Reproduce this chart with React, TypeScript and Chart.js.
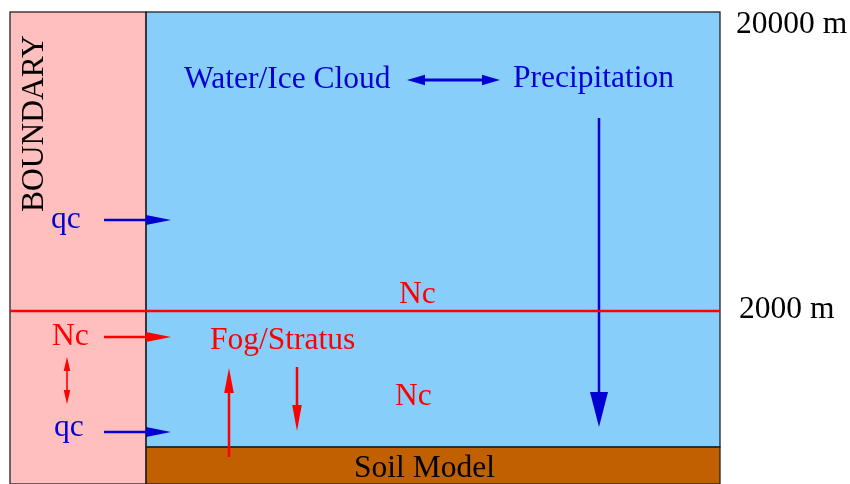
import React, { useEffect, useRef } from 'react';
import { Chart, registerables } from 'chart.js';

Chart.register(...registerables);

// Diagram coordinate space (x: 0..850 left→right, y: 0..484 top→bottom)
const boxNames = ['boundary', 'atmosphere', 'soil'];
const boxLeft = [10, 146, 146];
const boxRight = [146, 720, 720];
const boxTop = [12, 12, 447];
const boxBottom = [484, 447, 484];

const levelNames = ['fog top (2000 m)'];
const levelY = [311];
const levelFromX = [10];
const levelToX = [720];

const arrowNames = ['qc in (top)', 'Nc in', 'qc in (bottom)', 'soil up', 'fog down', 'precip fall', 'cloud<->precip', 'Nc<->qc'];
const arrowFromX = [104, 104, 104, 229, 297, 599, 407, 67];
const arrowFromY = [220, 337, 432, 457, 367, 118, 80, 357];
const arrowToX = [171, 171, 171, 229, 297, 599, 500, 67];
const arrowToY = [220, 337, 432, 368, 431, 427, 80, 404];
const arrowDouble = [false, false, false, false, false, false, true, true];

const labelTexts = ['20000 m', '2000 m', 'BOUNDARY', 'Water/Ice Cloud', 'Precipitation', 'qc', 'Nc', 'Fog/Stratus', 'Nc', 'Nc', 'qc', 'Soil Model'];
const labelX = [736, 739, 43, 184, 513, 51, 52, 210, 399, 395, 54, 354];
const labelY = [33, 318, 212, 88, 87, 228, 345, 349, 303, 405, 436, 477];

// styles (kept apart from the values)
const BLUE = '#0000d2';
const RED = '#ff0000';
const BLACK = '#000000';
const boxFill = ['#ffbfbf', '#87cefa', '#c06000'];
const arrowColor = [BLUE, RED, BLUE, RED, RED, BLUE, BLUE, RED];
const arrowWidth = [2.5, 2.5, 2.5, 2.5, 2.5, 2.5, 2.8, 1.6];
const headLen = [25, 25, 25, 25, 26, 35, 18, 14];
const headHalf = [5, 5, 5, 4.8, 4.8, 9, 5.3, 3.3];
const labelColor = [BLACK, BLACK, BLACK, BLUE, BLUE, BLUE, RED, RED, RED, RED, BLUE, BLACK];
const labelRotated = [false, false, true, false, false, false, false, false, false, false, false, false];
const FONT = '31.5px "Liberation Serif", "Times New Roman", serif';

function shaftEnd(i: number, end: 'from' | 'to') {
  const x0 = arrowFromX[i], y0 = arrowFromY[i], x1 = arrowToX[i], y1 = arrowToY[i];
  const len = Math.hypot(x1 - x0, y1 - y0);
  const ux = (x1 - x0) / len, uy = (y1 - y0) / len;
  if (end === 'to') return { x: x1 - ux * headLen[i] * 0.9, y: y1 - uy * headLen[i] * 0.9 };
  if (arrowDouble[i]) return { x: x0 + ux * headLen[i] * 0.9, y: y0 + uy * headLen[i] * 0.9 };
  return { x: x0, y: y0 };
}

const diagramPlugin = {
  id: 'diagram',
  beforeDatasetsDraw(chart: any) {
    const ctx = chart.ctx;
    const xs = chart.scales.x, ys = chart.scales.y;
    ctx.save();
    boxNames.forEach((_, i) => {
      const l = xs.getPixelForValue(boxLeft[i]);
      const r = xs.getPixelForValue(boxRight[i]);
      const t = ys.getPixelForValue(boxTop[i]);
      const b = ys.getPixelForValue(boxBottom[i]);
      ctx.fillStyle = boxFill[i];
      ctx.fillRect(l, t, r - l, b - t);
    });
    ctx.strokeStyle = '#222222';
    ctx.lineWidth = 1.3;
    boxNames.forEach((_, i) => {
      const l = xs.getPixelForValue(boxLeft[i]);
      const r = xs.getPixelForValue(boxRight[i]);
      const t = ys.getPixelForValue(boxTop[i]);
      const b = ys.getPixelForValue(boxBottom[i]);
      ctx.strokeRect(l, t, r - l, b - t);
    });
    ctx.restore();
  },
  afterDatasetsDraw(chart: any) {
    const ctx = chart.ctx;
    const xs = chart.scales.x, ys = chart.scales.y;
    ctx.save();
    const head = (i: number, tx: number, ty: number, fx: number, fy: number) => {
      const px = xs.getPixelForValue(tx), py = ys.getPixelForValue(ty);
      const qx = xs.getPixelForValue(fx), qy = ys.getPixelForValue(fy);
      const len = Math.hypot(px - qx, py - qy);
      const ux = (px - qx) / len, uy = (py - qy) / len;
      const bx = px - ux * headLen[i], by = py - uy * headLen[i];
      ctx.beginPath();
      ctx.moveTo(px, py);
      ctx.lineTo(bx - uy * headHalf[i], by + ux * headHalf[i]);
      ctx.lineTo(bx + uy * headHalf[i], by - ux * headHalf[i]);
      ctx.closePath();
      ctx.fillStyle = arrowColor[i];
      ctx.fill();
    };
    arrowNames.forEach((_, i) => {
      head(i, arrowToX[i], arrowToY[i], arrowFromX[i], arrowFromY[i]);
      if (arrowDouble[i]) head(i, arrowFromX[i], arrowFromY[i], arrowToX[i], arrowToY[i]);
    });
    ctx.font = FONT;
    ctx.textBaseline = 'alphabetic';
    ctx.textAlign = 'left';
    labelTexts.forEach((t, i) => {
      const px = xs.getPixelForValue(labelX[i]);
      const py = ys.getPixelForValue(labelY[i]);
      ctx.fillStyle = labelColor[i];
      if (labelRotated[i]) {
        ctx.save();
        ctx.translate(px, py);
        ctx.rotate(-Math.PI / 2);
        ctx.fillText(t, 0, 0);
        ctx.restore();
      } else {
        ctx.fillText(t, px, py);
      }
    });
    ctx.restore();
  },
};

export default function App() {
  const ref = useRef<HTMLCanvasElement>(null);
  useEffect(() => {
    document.body.style.margin = '0';
    if (!ref.current) return;
    const datasets: any[] = [];
    levelNames.forEach((n, i) => {
      datasets.push({
        label: n,
        data: [{ x: levelFromX[i], y: levelY[i] }, { x: levelToX[i], y: levelY[i] }],
        showLine: true,
        borderColor: RED,
        borderWidth: 2.5,
        pointRadius: 0,
        borderCapStyle: 'butt',
      });
    });
    arrowNames.forEach((n, i) => {
      const a = shaftEnd(i, 'from');
      const b = shaftEnd(i, 'to');
      datasets.push({
        label: n,
        data: [a, b],
        showLine: true,
        borderColor: arrowColor[i],
        borderWidth: arrowWidth[i],
        pointRadius: 0,
        borderCapStyle: 'butt',
      });
    });
    const chart = new Chart(ref.current, {
      type: 'scatter',
      data: { datasets },
      options: {
        animation: false,
        responsive: false,
        events: [],
        layout: { padding: 0 },
        plugins: { legend: { display: false }, tooltip: { enabled: false } },
        scales: {
          x: { type: 'linear', min: 0, max: 850, display: false },
          y: { type: 'linear', min: 0, max: 484, reverse: true, display: false },
        },
      },
      plugins: [diagramPlugin],
    });
    return () => chart.destroy();
  }, []);
  return (
    <div style={{ position: 'absolute', left: 0, top: 0, width: 850, height: 484, background: '#fff' }}>
      <canvas ref={ref} width={850} height={484} style={{ width: 850, height: 484, display: 'block' }} />
    </div>
  );
}
